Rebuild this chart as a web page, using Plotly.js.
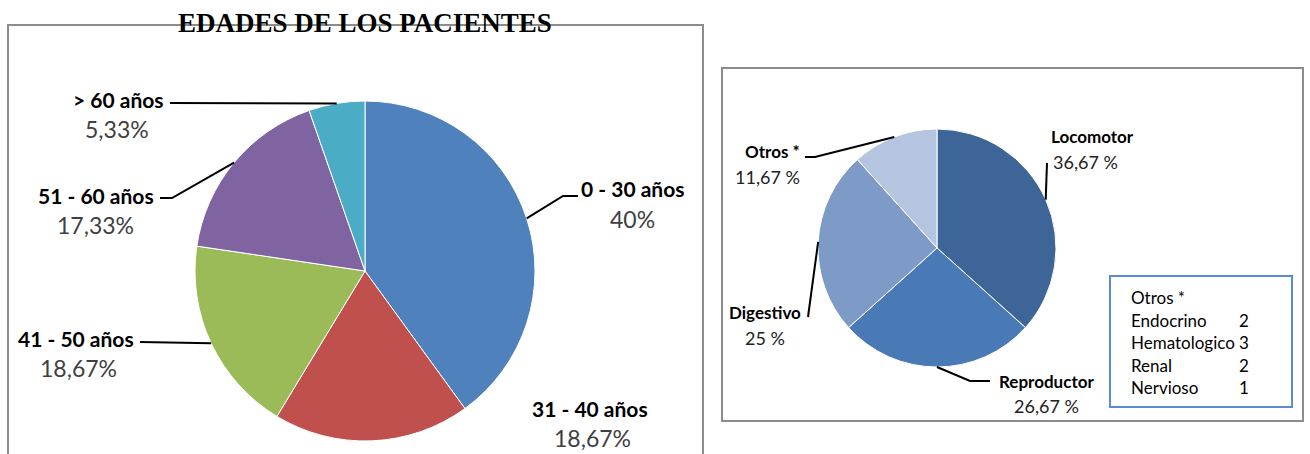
<!DOCTYPE html>
<html>
<head>
<meta charset="utf-8">
<script src="https://cdn.plot.ly/plotly-3.0.1.min.js"></script>
<style>
  body { margin: 0; background: #fff; }
  #chart { width: 1310px; height: 454px; }
</style>
</head>
<body>
<div id="chart"></div>
<script>
// data
var ageLabels = ['0 - 30 años', '31 - 40 años', '41 - 50 años', '51 - 60 años', '> 60 años'];
var agePercents = [40, 18.67, 18.67, 17.33, 5.33];
var ageColors = ['#4F81BD', '#C0504D', '#9BBB59', '#8064A2', '#4BACC6'];

var systemLabels = ['Locomotor', 'Reproductor', 'Digestivo', 'Otros *'];
var systemPercents = [36.67, 26.67, 25, 11.67];
var systemColors = ['#3E6597', '#4A7AB5', '#7E9BC8', '#B5C4DF'];

var otrosLabels = ['Endocrino', 'Hematologico', 'Renal', 'Nervioso'];
var otrosCounts = [2, 3, 2, 1];

var W = 1310, H = 454;
function px(x) { return x / W; }
function py(y) { return 1 - y / H; }

function formatPct(v, sep) {
    return (Math.round(v * 100) / 100).toString().replace('.', ',') + sep + '%';
}

// point on the rim of a pie at the middle of slice i (clockwise from 12 o'clock)
function rimPoint(values, i, cx, cy, r) {
    var total = values.reduce(function (a, b) { return a + b; }, 0);
    var before = 0;
    for (var k = 0; k < i; k++) before += values[k];
    var theta = 2 * Math.PI * (before + values[i] / 2) / total;
    return [cx + r * Math.sin(theta), cy - r * Math.cos(theta)];
}

// pie geometry (pixels)
var left = {cx: 365, cy: 271, r: 170};
var right = {cx: 937, cy: 248, r: 119};

// label placement for each slice: name, percent, leader start points
var ageLabelPos = [
    {name: [632, 188], pct: [632, 219], lead: [[578, 196], [563, 196]]},
    {name: [590, 408], pct: [592, 438], lead: null},
    {name: [76, 338], pct: [78, 368], lead: [[140, 342]]},
    {name: [96, 195], pct: [95, 225], lead: [[160, 198], [172, 198]]},
    {name: [118, 100], pct: [117, 129], lead: [[170, 103]]}
];
var systemLabelPos = [
    {name: [1092, 136], pct: [1085, 162], lead: [[1047, 163]]},
    {name: [1046, 381], pct: [1046, 406], lead: [[990, 381], [970, 381]]},
    {name: [765, 312], pct: [765, 338], lead: [[808, 317]]},
    {name: [772, 152], pct: [767, 177], lead: [[805, 157], [815, 157]]}
];

var annotations = [];
var shapes = [];

function addLabels(labels, values, pos, geo, opt) {
    labels.forEach(function (lab, i) {
        var p = pos[i];
        annotations.push({
            xref: 'paper', yref: 'paper', x: px(p.name[0]), y: py(p.name[1]),
            xanchor: 'center', yanchor: 'middle', showarrow: false,
            text: '<b>' + lab + '</b>',
            font: {family: 'Lato, sans-serif', size: opt.nameSize, color: '#000'}
        });
        annotations.push({
            xref: 'paper', yref: 'paper', x: px(p.pct[0]), y: py(p.pct[1]),
            xanchor: 'center', yanchor: 'middle', showarrow: false,
            text: formatPct(values[i], opt.sep),
            font: {family: 'Lato, sans-serif', size: opt.pctSize, color: opt.pctColor}
        });
        if (p.lead) {
            var pts = p.lead.concat([rimPoint(values, i, geo.cx, geo.cy, geo.r)]);
            var d = pts.map(function (q, k) {
                return (k === 0 ? 'M ' : 'L ') + px(q[0]) + ',' + py(q[1]);
            }).join(' ');
            shapes.push({type: 'path', xref: 'paper', yref: 'paper', path: d,
                line: {color: '#000', width: 2}});
        }
    });
}

// frames
shapes.push({type: 'rect', xref: 'paper', yref: 'paper',
    x0: px(8), x1: px(703), y0: py(470), y1: py(25),
    line: {color: '#8C8C8C', width: 2}});
shapes.push({type: 'rect', xref: 'paper', yref: 'paper',
    x0: px(722), x1: px(1303), y0: py(421), y1: py(68),
    line: {color: '#8C8C8C', width: 2}});
shapes.push({type: 'rect', xref: 'paper', yref: 'paper',
    x0: px(1110), x1: px(1292), y0: py(407), y1: py(276),
    line: {color: '#5B8BD0', width: 2}});

addLabels(ageLabels, agePercents, ageLabelPos, left,
    {nameSize: 21, pctSize: 23, pctColor: '#404040', sep: ''});
addLabels(systemLabels, systemPercents, systemLabelPos, right,
    {nameSize: 17, pctSize: 18, pctColor: '#222', sep: ' '});

// title
annotations.push({
    xref: 'paper', yref: 'paper', x: px(365), y: py(23),
    xanchor: 'center', yanchor: 'middle', showarrow: false,
    text: '<b>EDADES DE LOS PACIENTES</b>',
    font: {family: 'Liberation Serif, serif', size: 27, color: '#000'}
});

// "Otros *" breakdown box
annotations.push({
    xref: 'paper', yref: 'paper', x: px(1129), y: py(297),
    xanchor: 'left', yanchor: 'middle', showarrow: false,
    text: 'Otros *',
    font: {family: 'Lato, sans-serif', size: 17, color: '#000'}
});
otrosLabels.forEach(function (lab, i) {
    var y = 320 + i * 22.5;
    annotations.push({
        xref: 'paper', yref: 'paper', x: px(1129), y: py(y),
        xanchor: 'left', yanchor: 'middle', showarrow: false,
        text: lab, font: {family: 'Lato, sans-serif', size: 17, color: '#000'}
    });
    annotations.push({
        xref: 'paper', yref: 'paper', x: px(1244), y: py(y),
        xanchor: 'center', yanchor: 'middle', showarrow: false,
        text: String(otrosCounts[i]), font: {family: 'Lato, sans-serif', size: 17, color: '#000'}
    });
});

var agePie = {
    type: 'pie',
    labels: ageLabels,
    values: agePercents,
    marker: {colors: ageColors, line: {color: '#ffffff', width: 1}},
    sort: false,
    direction: 'clockwise',
    rotation: 0,
    textinfo: 'none',
    hoverinfo: 'label+percent',
    domain: {x: [px(left.cx - left.r), px(left.cx + left.r)],
             y: [py(left.cy + left.r), py(left.cy - left.r)]},
    showlegend: false
};

var systemPie = {
    type: 'pie',
    labels: systemLabels,
    values: systemPercents,
    marker: {colors: systemColors, line: {color: '#ffffff', width: 1}},
    sort: false,
    direction: 'clockwise',
    rotation: 0,
    textinfo: 'none',
    hoverinfo: 'label+percent',
    domain: {x: [px(right.cx - right.r), px(right.cx + right.r)],
             y: [py(right.cy + right.r), py(right.cy - right.r)]},
    showlegend: false
};

var layout = {
    width: W,
    height: H,
    margin: {l: 0, r: 0, t: 0, b: 0},
    paper_bgcolor: '#ffffff',
    showlegend: false,
    annotations: annotations,
    shapes: shapes
};

Plotly.newPlot('chart', [agePie, systemPie], layout, {displayModeBar: false, staticPlot: true});
</script>
</body>
</html>
